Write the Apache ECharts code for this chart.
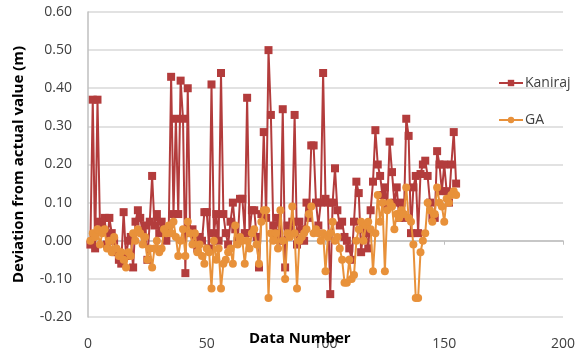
<!DOCTYPE html>
<html>
<head>
<meta charset="utf-8">
<script src="https://cdn.jsdelivr.net/npm/echarts@6/dist/echarts.min.js"></script>
<style>html,body{margin:0;padding:0;background:#fff}#c{width:582px;height:351px}</style>
</head>
<body>
<div id="c"></div>
<script>
var seriesNames = ['Kaniraj', 'GA'];
var xTicks = [0, 50, 100, 150, 200];
var yTicks = [-0.2, -0.1, 0, 0.1, 0.2, 0.3, 0.4, 0.5, 0.6];

var kaniraj = [
  -0.01, 0.37, -0.02, 0.37, 0.05, 0.03, 0.06, -0.01, 0.06, 0.02,
  0.00, -0.03, -0.05, -0.06, 0.075, -0.04, 0.00, 0.01, -0.07, 0.05,
  0.08, 0.06, 0.02, 0.04, -0.05, 0.05, 0.17, 0.04, 0.07, 0.02,
  0.05, 0.02, 0.00, 0.03, 0.43, 0.07, 0.32, 0.07, 0.42, 0.32,
  -0.085, 0.40, 0.02, 0.03, 0.00, -0.02, 0.01, 0.00, 0.075, 0.075,
  -0.02, 0.41, 0.02, 0.07, 0.00, 0.44, 0.07, 0.02, -0.01, 0.05,
  0.10, 0.03, 0.00, 0.11, 0.11, 0.02, 0.375, 0.02, 0.08, 0.08,
  0.01, -0.07, 0.07, 0.285, 0.06, 0.50, 0.33, 0.04, 0.02, 0.06,
  0.00, 0.345, -0.07, 0.04, 0.03, 0.05, 0.33, -0.01, 0.05, 0.03,
  0.00, 0.10, 0.06, 0.25, 0.25, 0.10, 0.04, 0.10, 0.44, 0.11,
  0.10, -0.14, 0.10, 0.19, 0.08, 0.04, 0.05, 0.01, 0.00, -0.02,
  -0.05, 0.05, 0.155, 0.125, -0.03, 0.03, 0.02, -0.02, 0.08, 0.155,
  0.29, 0.20, 0.17, 0.12, 0.14, 0.09, 0.26, 0.18, 0.10, 0.14,
  0.06, 0.10, 0.06, 0.32, 0.275, 0.02, 0.14, 0.17, 0.02, 0.175,
  0.20, 0.21, 0.17, 0.10, 0.06, 0.06, 0.235, 0.20, 0.13, 0.20,
  0.13, 0.10, 0.20, 0.285, 0.15
];

var ga = [
  0.00, 0.02, 0.01, 0.03, -0.01, 0.02, 0.03, -0.02, 0.00, -0.03,
  0.01, -0.02, -0.04, -0.03, -0.05, -0.07, -0.03, -0.04, 0.02, 0.00,
  0.03, 0.02, -0.01, 0.01, -0.05, -0.02, -0.07, -0.02, 0.00, -0.03,
  -0.02, 0.03, 0.02, 0.04, 0.02, 0.05, 0.01, -0.04, 0.00, 0.03,
  -0.04, 0.05, 0.02, -0.01, 0.02, -0.03, -0.01, -0.04, -0.06, -0.02,
  -0.03, -0.125, 0.00, -0.05, -0.02, -0.125, -0.06, -0.05, -0.03, -0.02,
  -0.06, 0.04, -0.01, 0.01, 0.00, -0.06, 0.00, -0.02, 0.02, 0.03,
  -0.01, -0.06, 0.05, 0.08, 0.08, -0.15, 0.02, 0.00, 0.02, -0.02,
  0.08, 0.00, -0.10, 0.02, 0.01, 0.09, 0.02, -0.125, 0.00, 0.01,
  0.02, 0.03, 0.07, 0.09, 0.02, 0.03, 0.02, 0.00, 0.02, -0.08,
  0.01, 0.02, 0.05, 0.00, 0.01, -0.02, -0.05, -0.11, -0.11, -0.05,
  -0.10, -0.09, 0.00, 0.03, 0.05, 0.00, 0.04, 0.05, 0.03, -0.08,
  0.02, 0.12, 0.05, 0.10, -0.08, 0.08, 0.10, 0.09, 0.03, 0.07,
  0.06, 0.08, 0.07, 0.14, 0.06, 0.05, -0.01, -0.15, -0.15, -0.03,
  0.00, 0.02, 0.10, 0.08, 0.05, 0.07, 0.14, 0.10, 0.09, 0.05,
  0.11, 0.10, 0.12, 0.13, 0.12
];

function pairs(arr) { return arr.map(function (v, i) { return [i + 1, v]; }); }

var chart = echarts.init(document.getElementById('c'));
var font = 'Open Sans';
chart.setOption({
  animation: false,
  backgroundColor: '#ffffff',
  title: {
    text: 'Data Number',
    left: 249,
    top: 331,
    textStyle: { fontFamily: font, fontSize: 15, fontWeight: 'bold', color: '#000' },
    padding: 0
  },
  legend: {
    orient: 'vertical',
    left: 493,
    top: 71,
    itemGap: 23,
    itemWidth: 24,
    itemHeight: 8,
    data: seriesNames,
    textStyle: { fontFamily: font, fontSize: 14, color: '#404040', padding: [0, 0, 0, -3] }
  },
  grid: { left: 88, right: 19, top: 12, bottom: 16, containLabel: false },
  xAxis: {
    type: 'value',
    min: xTicks[0],
    max: xTicks[xTicks.length - 1],
    interval: 50,
    axisLine: { onZero: true, lineStyle: { color: '#bfbfbf', width: 1.5 } },
    axisTick: { show: true, length: 4, lineStyle: { color: '#bfbfbf' } },
    splitLine: { show: false },
    axisLabel: { margin: 20, fontFamily: font, fontSize: 14, color: '#404040' }
  },
  yAxis: {
    type: 'value',
    min: yTicks[0],
    max: yTicks[yTicks.length - 1],
    interval: 0.1,
    name: 'Deviation from actual value (m)',
    nameLocation: 'middle',
    nameGap: 62,
    nameTextStyle: { fontFamily: font, fontSize: 15, fontWeight: 'bold', color: '#000' },
    axisLine: { show: true, lineStyle: { color: '#bfbfbf', width: 1.5 } },
    axisTick: { show: false },
    splitLine: { lineStyle: { color: '#d9d9d9', width: 1.5 } },
    axisLabel: {
      margin: 16, fontFamily: font, fontSize: 14, color: '#404040',
      formatter: function (v) { return v.toFixed(2); }
    }
  },
  series: [
    {
      name: seriesNames[0],
      type: 'line',
      data: pairs(kaniraj),
      symbol: 'rect',
      symbolSize: 8,
      showAllSymbol: true,
      color: '#b33c3c',
      lineStyle: { width: 2, color: '#b33c3c' },
      itemStyle: { color: '#b33c3c' },
      z: 2
    },
    {
      name: seriesNames[1],
      type: 'line',
      data: pairs(ga),
      symbol: 'circle',
      symbolSize: 8,
      showAllSymbol: true,
      color: '#e8913a',
      lineStyle: { width: 2, color: '#e8913a' },
      itemStyle: { color: '#e8913a' },
      z: 3
    }
  ]
});
</script>
</body>
</html>
